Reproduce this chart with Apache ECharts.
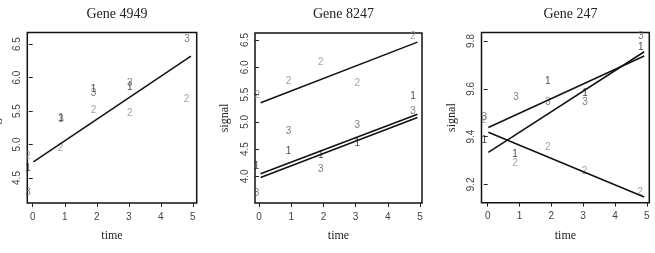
<!DOCTYPE html>
<html>
<head>
<meta charset="utf-8">
<script src="https://cdn.jsdelivr.net/npm/echarts@6.0.0/dist/echarts.min.js"></script>
<style>
  html, body { margin: 0; padding: 0; background: #fff; }
  #chart { width: 655px; height: 253px; }
</style>
</head>
<body>
<div id="chart"></div>
<script>
// Panel titles and shared ticks
const geneTitles = ["Gene 4949", "Gene 8247", "Gene 247"];
const timeTicks = [0, 1, 2, 3, 4, 5];
const signalTicks4949 = [4.5, 5.0, 5.5, 6.0, 6.5];
const signalTicks8247 = [3.5, 4.0, 4.5, 5.0, 5.5, 6.0, 6.5];
const signalTicks247 = [9.2, 9.4, 9.6, 9.8];

// Gene 4949: [time, signal] per replicate
const g4949Rep1 = [[-0.15, 4.65], [0.88, 5.39], [1.9, 5.82], [3.03, 5.85]];
const g4949Rep2 = [[-0.15, 4.82], [0.87, 4.94], [1.9, 5.51], [3.03, 5.46], [4.8, 5.68]];
const g4949Rep3 = [[-0.15, 4.28], [0.88, 5.37], [1.9, 5.76], [3.03, 5.91], [4.82, 6.57]];
const g4949Fits = [[[0.02, 4.74], [4.94, 6.32]]];

// Gene 8247
const g8247Rep1 = [[-0.08, 4.19], [0.92, 4.47], [1.92, 4.39], [3.05, 4.6], [4.78, 5.46]];
const g8247Rep2 = [[-0.05, 5.48], [0.92, 5.74], [1.92, 6.1], [3.05, 5.71], [4.78, 6.56]];
const g8247Rep3 = [[-0.08, 3.7], [0.92, 4.82], [1.92, 4.13], [3.05, 4.93], [4.78, 5.2]];
const g8247Fits = [
  [[0.05, 5.35], [4.92, 6.46]],
  [[0.05, 4.05], [4.92, 5.14]],
  [[0.05, 3.98], [4.92, 5.08]]
];

// Gene 247
const g247Rep1 = [[-0.11, 9.386], [0.86, 9.327], [1.89, 9.63], [3.06, 9.58], [4.81, 9.775]];
const g247Rep2 = [[-0.11, 9.47], [0.86, 9.288], [1.89, 9.355], [3.04, 9.253], [4.79, 9.166]];
const g247Rep3 = [[-0.11, 9.48], [0.89, 9.564], [1.9, 9.543], [3.06, 9.545], [4.81, 9.82]];
const g247Fits = [
  [[0.02, 9.438], [4.92, 9.737]],
  [[0.02, 9.334], [4.92, 9.755]],
  [[0.02, 9.418], [4.92, 9.147]]
];

/*
  Layout of the three panels (pixel boxes) and axis ranges
*/
const panels = [
  { left: 27.3, top: 32.5, width: 169.4, height: 170.5, xMin: -0.17, xMax: 5.12, yMin: 4.127, yMax: 6.672,
    yTicks: signalTicks4949, reps: [g4949Rep1, g4949Rep2, g4949Rep3], fits: g4949Fits },
  { left: 255, top: 33, width: 167, height: 170, xMin: -0.124, xMax: 5.06, yMin: 3.513, yMax: 6.628,
    yTicks: signalTicks8247, reps: [g8247Rep1, g8247Rep2, g8247Rep3], fits: g8247Fits },
  { left: 481.5, top: 32.5, width: 167.8, height: 170.2, xMin: -0.195, xMax: 5.08, yMin: 9.123, yMax: 9.8356,
    yTicks: signalTicks247, reps: [g247Rep1, g247Rep2, g247Rep3], fits: g247Fits }
];

const repColors = ["#151515", "#8c8c8c", "#5e5e5e"];
const serif = "Liberation Serif";
const sans = "Liberation Sans";

const grids = [];
const xAxes = [];
const yAxes = [];
const titles = [];
const series = [];

panels.forEach((p, i) => {
  grids.push({
    left: p.left, top: p.top, width: p.width, height: p.height,
    show: true, borderColor: "#111", borderWidth: 1.5, backgroundColor: "transparent"
  });

  titles.push({
    text: geneTitles[i],
    left: p.left + p.width / 2,
    top: 2,
    textAlign: "center",
    textStyle: { fontFamily: serif, fontSize: 14, fontWeight: "normal", color: "#222" }
  });

  xAxes.push({
    gridIndex: i, type: "value", min: p.xMin, max: p.xMax,
    name: "time", nameLocation: "middle", nameGap: 27,
    nameTextStyle: { fontFamily: serif, fontSize: 12, color: "#222" },
    axisLine: { show: false },
    splitLine: { show: false },
    axisTick: { show: true, length: 4, customValues: timeTicks, lineStyle: { color: "#222", width: 1 } },
    axisLabel: { customValues: timeTicks, margin: 9, fontFamily: sans, fontSize: 10, color: "#444" }
  });

  // the first panel's "signal" falls off the left edge, drawn below as graphic
  yAxes.push({
    gridIndex: i, type: "value", min: p.yMin, max: p.yMax,
    name: i === 0 ? "" : "signal", nameLocation: "middle", nameGap: 24,
    nameTextStyle: { fontFamily: serif, fontSize: 12, color: "#222" },
    axisLine: { show: false },
    splitLine: { show: false },
    axisTick: { show: true, length: 4, customValues: p.yTicks, lineStyle: { color: "#222", width: 1 } },
    axisLabel: {
      customValues: p.yTicks, rotate: 90, margin: 5,
      fontFamily: sans, fontSize: 10, color: "#444",
      formatter: (v) => v.toFixed(1)
    }
  });

  p.fits.forEach((fit) => {
    series.push({
      type: "line", xAxisIndex: i, yAxisIndex: i, data: fit,
      symbol: "none", silent: true,
      lineStyle: { color: "#111", width: 1.5 }
    });
  });

  p.reps.forEach((rep, r) => {
    series.push({
      type: "scatter", xAxisIndex: i, yAxisIndex: i, data: rep,
      symbolSize: 1, itemStyle: { color: "transparent" },
      label: {
        show: true, position: "inside", formatter: String(r + 1),
        fontFamily: sans, fontSize: 10, color: repColors[r]
      }
    });
  });
});

const chart = echarts.init(document.getElementById("chart"), null, { renderer: "canvas" });
chart.setOption({
  animation: false,
  backgroundColor: "#fff",
  title: titles,
  grid: grids,
  xAxis: xAxes,
  yAxis: yAxes,
  series: series,
  graphic: [
    {
      type: "text", x: -4, y: 118, rotation: Math.PI / 2,
      style: {
        text: "signal", font: "12px 'Liberation Serif'", fill: "#222",
        align: "center", verticalMiddle: "middle", verticalAlign: "middle"
      }
    }
  ]
});
</script>
</body>
</html>
